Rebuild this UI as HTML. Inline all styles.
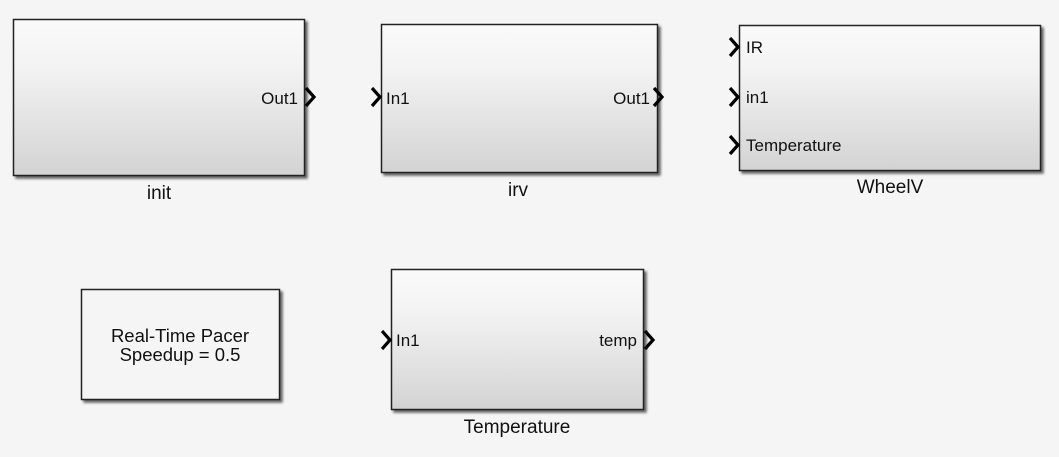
<!DOCTYPE html>
<html><head><style>
body{margin:0;background:#f5f5f5;}
svg{display:block;font-family:"Liberation Sans",Arial,sans-serif;}
</style></head><body>
<svg width="1059" height="457" viewBox="0 0 1059 457">
<defs>
<linearGradient id="g" x1="0" y1="0" x2="0" y2="1">
<stop offset="0" stop-color="#fafafa"/><stop offset="0.3" stop-color="#f3f3f3"/><stop offset="1" stop-color="#d3d3d3"/>
</linearGradient>
<filter id="s" x="-5%" y="-5%" width="115%" height="115%"><feDropShadow dx="2.5" dy="2.5" stdDeviation="1.2" flood-color="#000" flood-opacity="0.6"/></filter>
</defs>
<g stroke="#222" stroke-width="1.5">
<rect x="13.5" y="19.5" width="291" height="156" fill="url(#g)" filter="url(#s)"/>
<rect x="381.5" y="24.5" width="276" height="148" fill="url(#g)" filter="url(#s)"/>
<rect x="739.5" y="25.5" width="301" height="145" fill="url(#g)" filter="url(#s)"/>
<rect x="81.5" y="289.5" width="198" height="110" fill="#f5f5f5" filter="url(#s)"/>
<rect x="391.5" y="269.5" width="252" height="140" fill="url(#g)" filter="url(#s)"/>
</g>
<g fill="none" stroke="#000" stroke-width="3.2">
<polyline points="306,88 314,97 306,106"/>
<polyline points="372,88 380,97 372,106"/>
<polyline points="654,88 662,97 654,106"/>
<polyline points="730,38 738,47 730,56"/>
<polyline points="730,88 738,97 730,106"/>
<polyline points="730,136 738,145 730,154"/>
<polyline points="382,331 390,340 382,349"/>
<polyline points="645,331 653,340 645,349"/>
</g>
<g font-size="17" fill="#111">
<text x="298" y="104" text-anchor="end">Out1</text>
<text x="386" y="104">In1</text>
<text x="650" y="104" text-anchor="end">Out1</text>
<text x="746" y="53">IR</text>
<text x="746" y="103">in1</text>
<text x="746" y="151">Temperature</text>
<text x="396" y="346">In1</text>
<text x="637" y="346" text-anchor="end">temp</text>
</g>
<g font-size="18.5" fill="#111" text-anchor="middle">
<text x="180" y="342">Real-Time Pacer</text>
<text x="180" y="361">Speedup = 0.5</text>
</g>
<g font-size="19" fill="#111" text-anchor="middle">
<text x="159" y="199">init</text>
<text x="518" y="196">irv</text>
<text x="890" y="193">WheelV</text>
<text x="517" y="433">Temperature</text>
</g>
</svg>
</body></html>
